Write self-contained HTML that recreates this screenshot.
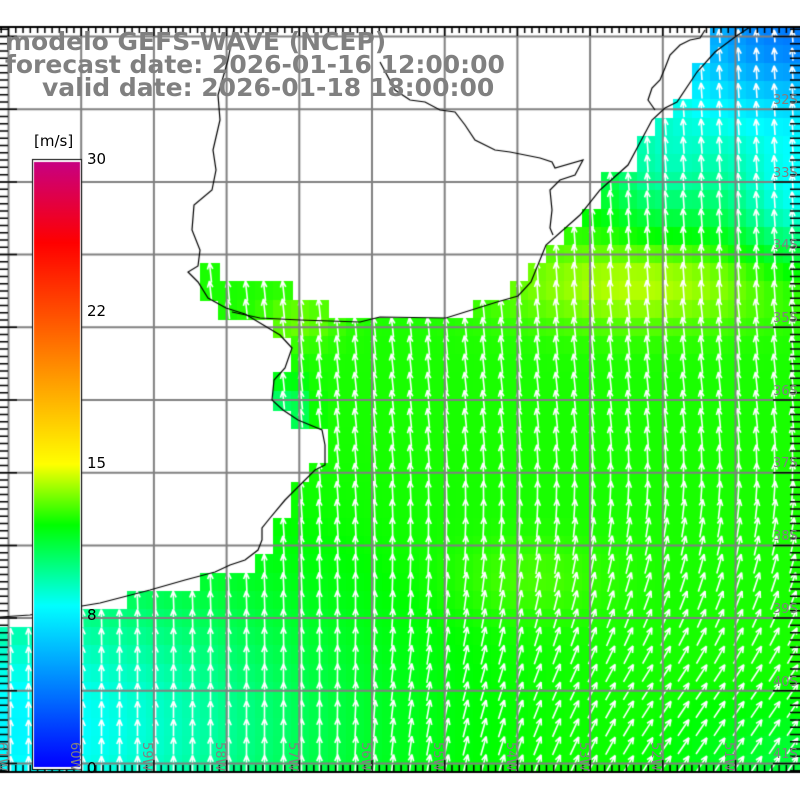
<!DOCTYPE html>
<html><head><meta charset="utf-8"><style>
html,body{margin:0;padding:0;background:#fff;}
#c{display:block;}
.t{position:absolute;font-family:"DejaVu Sans","Liberation Sans",sans-serif;font-weight:bold;color:#808080;font-size:25px;white-space:nowrap;line-height:1;}
.l{position:absolute;font-family:"DejaVu Sans","Liberation Sans",sans-serif;color:#000;font-size:15px;white-space:nowrap;line-height:1;}
.g{position:absolute;font-family:"DejaVu Sans","Liberation Sans",sans-serif;color:#808080;font-size:13px;white-space:nowrap;line-height:1;}
</style></head><body>
<div style="position:relative;width:800px;height:800px;overflow:hidden">
<canvas id="c" width="800" height="800"></canvas>
<div class="t" style="left:5px;top:29px">modelo GEFS-WAVE (NCEP)</div>
<div class="t" style="left:5px;top:52px">forecast date: 2026-01-16 12:00:00</div>
<div class="t" style="left:42px;top:75px">valid date: 2026-01-18 18:00:00</div>
<div class="l" style="left:34px;top:134px">[m/s]</div>
<div class="l" style="left:87px;top:152px">30</div>
<div class="l" style="left:87px;top:304px">22</div>
<div class="l" style="left:87px;top:456px">15</div>
<div class="l" style="left:87px;top:608px">8</div>
<div class="l" style="left:87px;top:761px">0</div>
<div class="g" style="left:773px;top:94px">32S</div>
<div class="g" style="left:773px;top:167px">33S</div>
<div class="g" style="left:773px;top:239px">34S</div>
<div class="g" style="left:773px;top:312px">35S</div>
<div class="g" style="left:773px;top:385px">36S</div>
<div class="g" style="left:773px;top:457px">37S</div>
<div class="g" style="left:773px;top:530px">38S</div>
<div class="g" style="left:773px;top:603px">39S</div>
<div class="g" style="left:773px;top:676px">40S</div>
<div class="g" style="left:773px;top:748px">41S</div>
<div id="lon"></div>
</div>
<script>
var c=document.getElementById('c'),x=c.getContext('2d');
x.fillStyle='#fff';x.fillRect(0,0,800,800);
var sea=[[0,622],[30,619],[82,610],[100,607],[150,594],[185,584],[215,576],[232,569],[247,564],[262,554],[266,543],[266,531],[273,521],[288,503],[303,488],[318,473],[328,468],[330,445],[326,430],[300,425],[285,415],[274,405],[276,382],[288,372],[295,348],[282,338],[270,330],[248,318],[226,312],[206,302],[196,285],[196,263],[222,263],[222,280],[290,282],[300,298],[332,298],[335,316],[380,316],[446,316],[497,300],[531,282],[546,245],[580,215],[600,190],[628,165],[652,120],[677,100],[697,70],[706,52],[716,27],[800,27],[800,772],[0,772]];
function inside(px,py,p){var r=false;for(var i=0,j=p.length-1;i<p.length;j=i++){var xi=p[i][0],yi=p[i][1],xj=p[j][0],yj=p[j][1];if(((yi>py)!=(yj>py))&&(px<(xj-xi)*(py-yi)/(yj-yi)+xi))r=!r;}return r;}
function E(a,b){return Math.exp(-a*a-b*b);}
function spd(px,py){var s=12.3;
s+=1.9*E((px-640)/140,(py-285)/42);
s+=1.0*E((px-300)/40,(py-320)/25);
s+=0.6*E((px-530)/80,(py-580)/40);
s-=4.6*E(px/300,(py-730)/150);
s-=8.5*E((px-800)/180,(py-27)/115);
s-=3.2*E((px-800)/70,(py-200)/60);
s-=2*E((px-660)/60,(py-170)/60);
s-=2.5*E((px-290)/18,(py-410)/25);
s-=1.2*E((px-800)/120,(py-770)/60);
return s;}
var stops=[[0,[0,0,255]],[8,[0,255,255]],[12,[0,255,0]],[15,[255,255,0]],[22,[255,90,0]],[26,[255,0,0]],[30,[200,0,130]]];
function col(s){if(s<=0)return stops[0][1];for(var i=1;i<stops.length;i++){if(s<=stops[i][0]){var a=stops[i-1],b=stops[i],t=(s-a[0])/(b[0]-a[0]);return [0,1,2].map(function(k){return Math.round(a[1][k]+(b[1][k]-a[1][k])*t);});}}return stops[stops.length-1][1];}
var cs=18.2,cells=[];
for(var r=0;r<42;r++)for(var q=0;q<44;q++){var x0=q*cs+0.5,y0=27+r*cs;if(y0>772||x0>800)continue;var cx=x0+cs/2,cy=y0+cs/2;
if(!inside(Math.min(cx,799),Math.min(cy,771),sea))continue;
var s=spd(cx,cy),k=col(s);x.fillStyle='rgb('+k+')';x.fillRect(Math.floor(x0),Math.floor(y0),Math.ceil(cs)+1,Math.min(Math.ceil(cs)+1,772-Math.floor(y0)));cells.push([cx,cy,s]);}
// arrows
x.strokeStyle='#fff';x.lineWidth=1.6;
cells.forEach(function(a){var cx=Math.round(a[0])+0.5,cy=a[1],s=a[2];
var ang=-8*E((cx-720)/150,(cy-80)/120)*2-6;
var f1=Math.max(0,Math.min(1,(cy-430)/250)),f2=Math.max(0,Math.min(1,(cx-330)/330));ang+=34*f1*f2+6*f1;
if(cy<300&&cx>500)ang=-4;
var rad=ang*Math.PI/180,L=9+s*0.9;var dx=Math.sin(rad)*L/2,dy=-Math.cos(rad)*L/2;
x.beginPath();x.moveTo(cx-dx,cy-dy);x.lineTo(cx+dx,cy+dy);
var hl=7;for(var sg=-1;sg<=1;sg+=2){var h=rad+Math.PI+sg*0.4;x.moveTo(cx+dx,cy+dy);x.lineTo(cx+dx+Math.sin(h)*hl,cy+dy-Math.cos(h)*hl);}
x.stroke();});
x.fillStyle='#fff';x.fillRect(0,772,800,28);x.fillRect(0,0,800,27);
// grid
x.strokeStyle='#808080';x.lineWidth=2;
for(var i=0;i<12;i++){var gx=8.5+i*72.7;x.beginPath();x.moveTo(gx,27);x.lineTo(gx,772);x.stroke();}
for(var i=0;i<11;i++){var gy=36.5+i*72.7;x.beginPath();x.moveTo(0,gy);x.lineTo(800,gy);x.stroke();}
// coast
x.strokeStyle='#000';x.lineWidth=1.2;
var coast=[[0,617],[30,615],[82,606],[100,603],[150,590],[185,580],[215,572],[230,565],[245,560],[258,550],[262,540],[262,528],[270,518],[285,500],[300,485],[315,470],[325,465],[325,445],[322,430],[298,420],[283,410],[272,400],[274,380],[285,368],[292,348],[280,335],[265,326],[245,314],[226,308],[208,298],[198,282],[188,272],[198,266],[200,250],[192,230],[194,205],[212,190],[216,170],[213,150],[220,120],[218,95],[228,60],[234,28]];
function pl(p){x.beginPath();x.moveTo(p[0][0],p[0][1]);for(var i=1;i<p.length;i++)x.lineTo(p[i][0],p[i][1]);x.stroke();}
pl(coast);
pl([[232,312],[260,318],[300,320],[360,322],[380,317],[446,318],[497,302],[518,296],[531,282],[546,245],[580,215],[600,190],[628,165],[652,120],[665,108],[677,102],[697,72],[715,52],[735,37],[750,27]]);
pl([[380,62],[395,90],[410,100],[425,102],[440,110],[455,112],[465,125],[475,140],[495,150],[510,152],[540,158],[552,162],[555,168],[583,160],[575,175],[560,180],[550,190],[552,210],[550,228],[553,235]]);
pl([[655,110],[648,100],[652,88],[660,80],[665,68],[670,55],[680,45],[690,40],[700,38],[705,30]]);
// frame ticks
x.strokeStyle='#000';x.lineWidth=2;x.beginPath();x.moveTo(0,27);x.lineTo(800,27);x.moveTo(0,772);x.lineTo(800,772);x.stroke();
x.lineWidth=1.5;x.beginPath();
for(var i=-1;i<120;i++){var p=8.5+i*72.7/10;var mj=(i%10==0);if(p<0||p>800)continue;
x.moveTo(p,27);x.lineTo(p,mj?36:33);x.moveTo(p,772);x.lineTo(p,mj?760:765);}
for(var i=-2;i<110;i++){var p=36.5+i*72.7/10;var mj=(i%10==0);if(p<27||p>772)continue;
x.moveTo(0,p);x.lineTo(mj?17:8,p);x.moveTo(800,p);x.lineTo(mj?773:790,p);}
x.stroke();
// colorbar
x.fillStyle='#000';x.fillRect(32,159,50,611);x.fillStyle='#fff';x.fillRect(33,160,48,609);
var g=x.createLinearGradient(0,162,0,767);
stops.forEach(function(s){g.addColorStop(1-s[0]/30,'rgb('+s[1]+')');});
x.fillStyle=g;x.fillRect(34,162,46,605);
var h='';for(var i=0;i<11;i++){h+='<div class="g" style="left:'+(8+i*72.7)+'px;top:742px;transform:rotate(90deg);transform-origin:0 0">'+(61-i)+'W</div>';}
document.getElementById('lon').innerHTML=h;
</script>
</body></html>
